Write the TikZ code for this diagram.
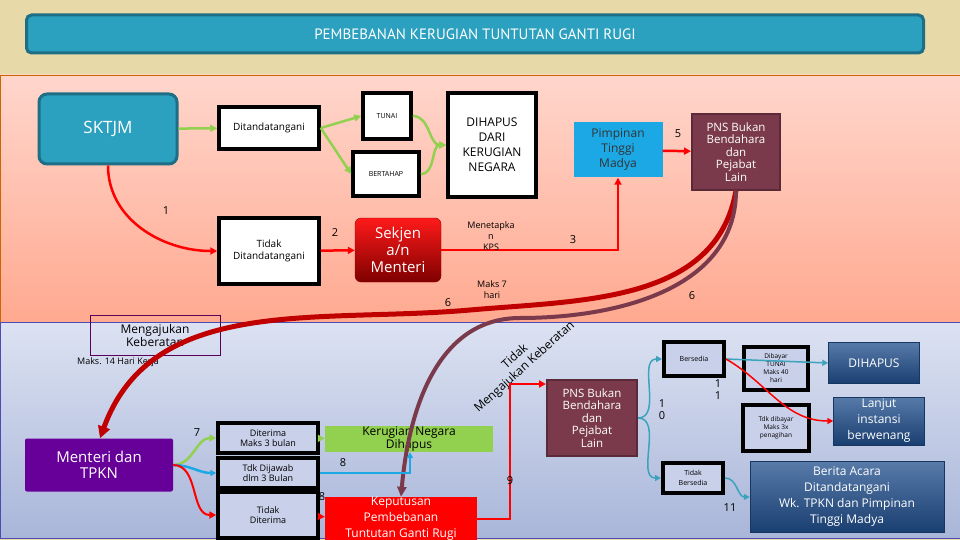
\documentclass[tikz,border=0pt]{standalone}
\usepackage{fontspec}
\setmainfont{Open Sans}
\newfontfamily\titlefont{PT Sans}
\usetikzlibrary{arrows.meta}
\definecolor{teal1}{HTML}{2BA0BF}
\definecolor{teal2}{HTML}{1E6E85}
\definecolor{maroon1}{HTML}{7A3A4C}
\definecolor{maroon2}{HTML}{5A2A38}
\definecolor{dred}{HTML}{C00000}
\definecolor{lgreen}{HTML}{92D050}
\definecolor{sky}{HTML}{1BA8E4}
\definecolor{lav}{HTML}{C9D0EA}
\definecolor{cyanl}{HTML}{3BA3BC}
\definecolor{nblue}{HTML}{1F4E8C}
\definecolor{sand}{HTML}{E8D9A8}
\definecolor{pinktop}{HTML}{FFD6CC}
\definecolor{pinkbot}{HTML}{FFA990}
\definecolor{lavtop}{HTML}{DCE2F2}
\definecolor{lavbot}{HTML}{A9B6D9}
\tikzset{
  wbox/.style={draw=black, line width=3.5pt, fill=white, align=center, inner sep=1pt},
  lbox/.style={draw=black, line width=3.5pt, fill=lav, align=center, inner sep=1pt, font=\fontsize{9}{10}\selectfont},
  pns/.style={draw=maroon2, line width=2pt, fill=maroon1, text=white, align=center, font=\fontsize{11.5}{12.5}\selectfont, inner sep=0pt},
  bluebox/.style={draw=nblue!70!black, top color=nblue!75!white, bottom color=nblue!80!black, text=white, align=center, inner sep=0pt},
  lab/.style={font=\fontsize{11}{12}\selectfont, align=center},
  garr/.style={draw=lgreen, line width=2.5pt, -{Triangle[length=7pt,width=7pt]}},
  rarr/.style={draw=red, line width=2.5pt, -{Triangle[length=7pt,width=7pt]}},
  barr/.style={draw=sky, line width=2.5pt, -{Triangle[length=6pt,width=6pt]}},
  carr/.style={draw=cyanl, line width=1.5pt, -{Triangle[length=6pt,width=6pt]}}
}
\begin{document}
\begin{tikzpicture}[x=1pt, y=-1pt]
  \useasboundingbox (0,0) rectangle (960,540);
  % background and panels
  \fill[sand] (0,0) rectangle (960,540);
  \shade[top color=pinktop, bottom color=pinkbot, draw=orange!80!black] (0,75) rectangle (960,322);
  \shade[top color=lavtop, bottom color=lavbot, draw=blue!40!gray] (0,322) rectangle (960,538);
  \node[draw=teal2, line width=3pt, fill=teal1, rounded corners=5pt, minimum width=897pt, minimum height=38pt, text=white, font=\titlefont\fontsize{15}{16}\selectfont] (title) at (475,34) {PEMBEBANAN KERUGIAN TUNTUTAN GANTI RUGI};

  % upper part
  \node[draw=teal2, line width=3pt, fill=teal1, rounded corners=8pt, minimum width=138pt, minimum height=70pt, text=white, font=\fontsize{17}{18}\selectfont] (sktjm) at (108,129) {SKTJM};
  \node[wbox, minimum width=100pt, minimum height=42pt, font=\fontsize{10}{11}\selectfont] (ttd) at (269,128) {Ditandatangani};
  \node[wbox, minimum width=48pt, minimum height=46pt, font=\fontsize{7}{8}\selectfont] (tunai) at (387,116) {TUNAI};
  \node[wbox, minimum width=66pt, minimum height=44pt, font=\fontsize{7}{8}\selectfont] (bertahap) at (386,174) {BERTAHAP};
  \node[wbox, minimum width=88pt, minimum height=104pt, font=\fontsize{12}{15}\selectfont] (dihapus) at (492,145) {DIHAPUS\\DARI\\KERUGIAN\\NEGARA};
  \node[wbox, minimum width=100pt, minimum height=66pt, font=\fontsize{10}{12}\selectfont] (tidakttd) at (269,251) {Tidak\\Ditandatangani};
  \node[draw=red!60!black, top color=red!90!white, bottom color=red!50!black, rounded corners=6pt, minimum width=86pt, minimum height=64pt, text=white, align=center, font=\fontsize{15}{17}\selectfont, inner sep=0pt] (sekjen) at (398,250) {Sekjen\\a/n\\Menteri};
  \node[fill=sky, minimum width=89pt, minimum height=55pt, align=center, font=\fontsize{12}{15}\selectfont, text=black!80, inner sep=0pt] (ptm) at (618,150) {Pimpinan\\Tinggi\\Madya};
  \node[pns, minimum width=88pt, minimum height=75pt] (pnsa) at (736,152) {PNS Bukan\\Bendahara\\dan\\Pejabat\\Lain};

  \draw[garr] (sktjm) -- (ttd);
  \draw[garr] (ttd.east) -- (tunai.west);
  \draw[garr] (ttd.east) -- (bertahap.west);
  \draw[garr] (tunai.east) to[out=0, in=180] (dihapus.west);
  \draw[garr] (bertahap.east) to[out=0, in=180] (dihapus.west);
  \draw[rarr] (sktjm.south) to[out=-90, in=180] (tidakttd.west);
  \draw[rarr] (tidakttd) -- (sekjen);
  \draw[rarr] (sekjen.east) -- (sekjen.east -| ptm.south) -- (ptm.south);
  \draw[rarr] (ptm) -- (pnsa);

  \node[lab] (n1) at (166,211) {1};
  \node[lab] (n2) at (335,233) {2};
  \node[lab] (n3) at (573,240) {3};
  \node[lab] (n5) at (678,134) {5};
  \node[lab] (n6a) at (448,303) {6};
  \node[lab] (n6b) at (692,296) {6};
  \node[font=\fontsize{9}{11}\selectfont, align=center] (kps) at (491,236) {Menetapka\\n\\KPS};
  \node[font=\fontsize{9}{11}\selectfont, align=center] (maks7) at (492,290) {Maks 7\\hari};

  % lower part
  \node[draw=violet!70!black, minimum width=130pt, minimum height=40pt, align=center, font=\fontsize{12}{13}\selectfont, inner sep=0pt] (keberatan) at (155,335) {Mengajukan\\Keberatan};
  \node[font=\fontsize{9}{10}\selectfont] (maks14) at (118,362) {Maks. 14 Hari Kerja};
  \node[fill=violet!80!blue, rounded corners=2pt, minimum width=148pt, minimum height=53pt, text=white, align=center, font=\fontsize{15}{16}\selectfont, inner sep=0pt] (tpkn) at (99,465) {Menteri dan\\TPKN};
  \node[lbox, minimum width=100pt, minimum height=30pt] (diterima) at (268,438) {Diterima\\Maks 3 bulan};
  \node[lbox, minimum width=100pt, minimum height=30pt] (tdkjawab) at (268,473) {Tdk Dijawab\\dlm 3 Bulan};
  \node[lbox, minimum width=100pt, minimum height=46pt] (tdkterima) at (268,515) {Tidak\\Diterima};
  \node[fill=lgreen, minimum width=168pt, minimum height=26pt, align=center, font=\fontsize{12}{13}\selectfont, inner sep=0pt] (kndihapus) at (409,439) {Kerugian Negara\\Dihapus};
  \node[fill=red, minimum width=152pt, minimum height=44pt, text=white, align=center, font=\fontsize{12}{16}\selectfont, inner sep=0pt] (keputusan) at (401,519) {Keputusan\\Pembebanan\\Tuntutan Ganti Rugi};
  \node[pns, minimum width=90pt, minimum height=76pt] (pnsb) at (592,418) {PNS Bukan\\Bendahara\\dan\\Pejabat\\Lain};
  \node[wbox, line width=4pt, fill=lav, minimum width=60pt, minimum height=34pt, font=\fontsize{7}{8}\selectfont] (bersedia) at (694,359) {Bersedia};
  \node[wbox, line width=4pt, fill=lav, minimum width=60pt, minimum height=30pt, font=\fontsize{7}{10}\selectfont] (tdkbersedia) at (693,478) {Tidak\\Bersedia};
  \node[wbox, line width=4pt, fill=lav, minimum width=64pt, minimum height=43pt, font=\fontsize{6.5}{8}\selectfont] (dibayar) at (776,368) {Dibayar\\TUNAI\\Maks 40\\hari};
  \node[wbox, line width=4pt, fill=lav, minimum width=66pt, minimum height=46pt, font=\fontsize{6.5}{8}\selectfont] (tdkdibayar) at (776,428) {Tdk dibayar\\Maks 3x\\penagihan};
  \node[bluebox, minimum width=91pt, minimum height=41pt, font=\fontsize{12}{13}\selectfont] (dihapusb) at (874,363) {DIHAPUS};
  \node[bluebox, minimum width=91pt, minimum height=48pt, font=\fontsize{12}{16}\selectfont] (lanjut) at (879,421) {Lanjut\\instansi\\berwenang};
  \node[bluebox, minimum width=194pt, minimum height=71pt, font=\fontsize{12}{16}\selectfont] (berita) at (847,497) {Berita Acara\\Ditandatangani\\Wk. TPKN dan Pimpinan\\Tinggi Madya};

  % long curves from upper PNS
  \draw[draw=dred, line width=5pt, -{Triangle[length=12pt,width=12pt]}] (pnsa.south) to[out=-100, in=5] (470,310) to[out=185, in=70] (tpkn.north -| 100,0);
  \draw[draw=maroon1, line width=4pt, -{Triangle[length=10pt,width=9pt]}] (pnsa.south) to[out=-90, in=0] (520,318) to[out=180, in=85] (keputusan.north);
  \node[font=\fontsize{12}{14}\selectfont, align=center, rotate=42] (tidakmk) at (520,362) {Tidak\\Mengajukan Keberatan};

  \draw[garr] (tpkn.east) to[out=0, in=180] (diterima.west);
  \draw[barr] (tpkn.east) to[out=0, in=180] (tdkjawab.west);
  \draw[rarr, line width=2pt] (tpkn.east) to[out=0, in=180] (tdkterima.west);
  \draw[garr] (diterima) -- (kndihapus);
  \coordinate (bknee) at (410,473);
  \draw[barr] (tdkjawab.east) -- (bknee) -- (kndihapus.south -| bknee);
  \draw[rarr] (tdkterima) -- (keputusan);
  \coordinate (rk1) at (510,519);
  \coordinate (rk2) at (510,384);
  \draw[rarr] (keputusan.east) -- (rk1) -- (rk2) -- (pnsb.west |- rk2);
  \draw[carr] (pnsb.east) to[out=0, in=180] (bersedia.west);
  \draw[carr] (pnsb.east) to[out=0, in=180] (tdkbersedia.west);
  \draw[carr] (bersedia.east) -- (dihapusb.west);
  \draw[draw=red, line width=1.5pt, -{Triangle[length=6pt,width=6pt]}] (bersedia.east) to[out=-30, in=180] (lanjut.west);
  \draw[carr] (tdkbersedia.east) to[out=0, in=180] (berita.west);

  \node[lab] (n7) at (197,433) {7};
  \node[lab] (n8a) at (343,463) {8};
  \node[lab] (n8b) at (322,497) {8};
  \node[lab] (n9) at (510,481) {9};
  \node[lab] (n10) at (662,410) {1\\0};
  \node[lab] (n11a) at (718,390) {1\\1};
  \node[lab] (n11b) at (730,508) {11};
\end{tikzpicture}
\end{document}
